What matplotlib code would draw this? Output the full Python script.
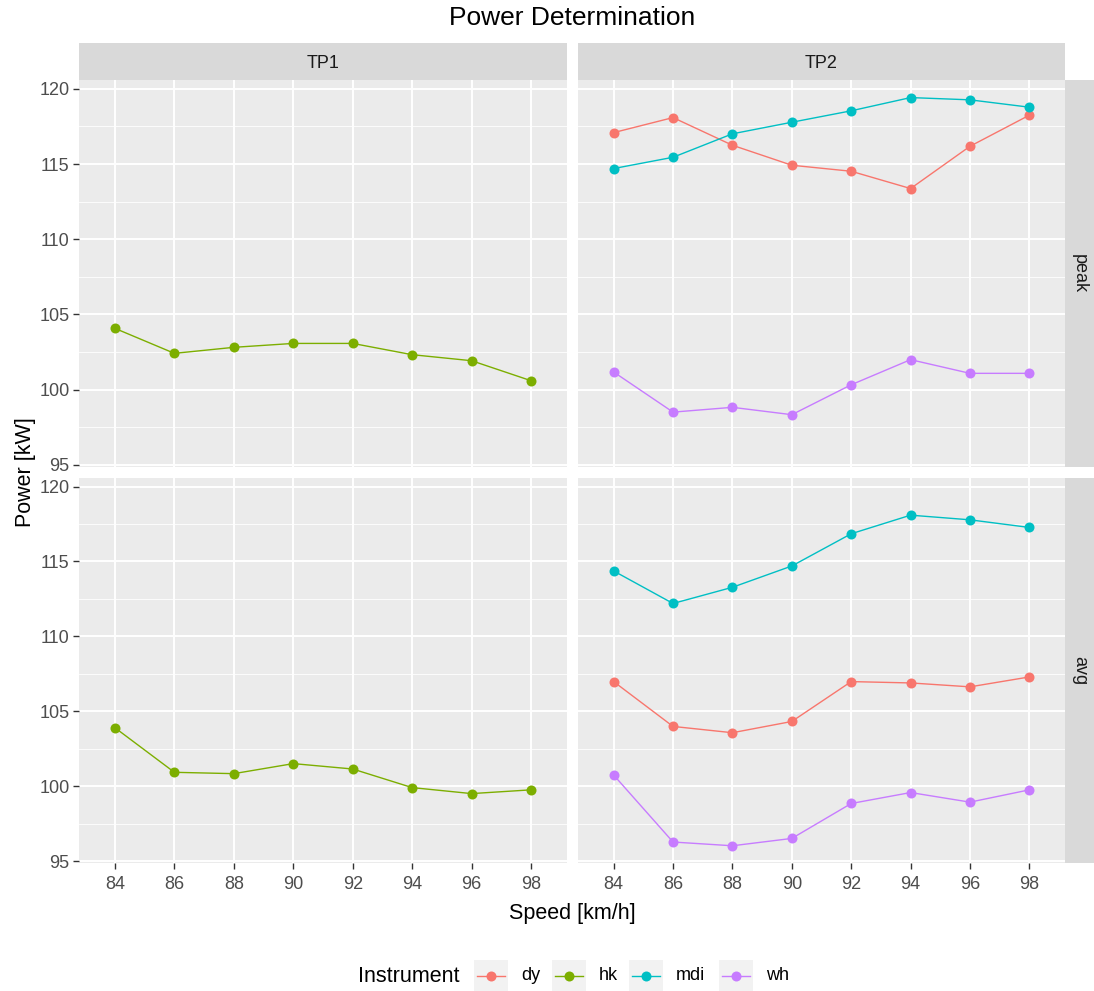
import matplotlib
matplotlib.use("Agg")
import matplotlib.pyplot as plt
from matplotlib.patches import Rectangle
from matplotlib.lines import Line2D
from matplotlib.ticker import MultipleLocator

plt.rcParams["font.family"] = ["Liberation Sans", "DejaVu Sans"]

# ---- data -------------------------------------------------------------
speed = [84, 86, 88, 90, 92, 94, 96, 98]
instruments = ["dy", "hk", "mdi", "wh"]
columns = ["TP1", "TP2"]
rows = ["peak", "avg"]

tp1_peak_hk = [104.07, 102.41, 102.81, 103.07, 103.07, 102.32, 101.92, 100.59]
tp1_avg_hk = [103.91, 100.94, 100.85, 101.52, 101.16, 99.92, 99.52, 99.77]

tp2_peak_dy = [117.09, 118.09, 116.25, 114.92, 114.52, 113.37, 116.18, 118.25]
tp2_peak_mdi = [114.70, 115.45, 117.01, 117.78, 118.54, 119.42, 119.27, 118.78]
tp2_peak_wh = [101.17, 98.50, 98.82, 98.33, 100.32, 101.99, 101.08, 101.08]

tp2_avg_dy = [106.99, 104.00, 103.58, 104.33, 106.99, 106.90, 106.64, 107.30]
tp2_avg_mdi = [114.37, 112.20, 113.28, 114.70, 116.85, 118.09, 117.78, 117.27]
tp2_avg_wh = [100.76, 96.29, 96.04, 96.53, 98.86, 99.59, 98.95, 99.77]

y_ticks = [95, 100, 105, 110, 115, 120]

palette = {"dy": "#F8766D", "hk": "#7CAE00", "mdi": "#00BFC4", "wh": "#C77CFF"}

panels = {
    ("peak", "TP1"): {"hk": tp1_peak_hk},
    ("peak", "TP2"): {"dy": tp2_peak_dy, "mdi": tp2_peak_mdi, "wh": tp2_peak_wh},
    ("avg", "TP1"): {"hk": tp1_avg_hk},
    ("avg", "TP2"): {"dy": tp2_avg_dy, "mdi": tp2_avg_mdi, "wh": tp2_avg_wh},
}

# ---- layout (pixel based) --------------------------------------------
W, H = 1094, 991
fig = plt.figure(figsize=(W / 100, H / 100), dpi=100)
fig.patch.set_facecolor("white")


def px_axes(x0, y0, x1, y1):
    """Axes from pixel box (top-left origin)."""
    return fig.add_axes([x0 / W, 1 - y1 / H, (x1 - x0) / W, (y1 - y0) / H])


col_x = {"TP1": (79.3, 566.7), "TP2": (578.0, 1065.0)}
row_y = {"peak": (80.0, 466.7), "avg": (477.7, 863.3)}
strip_top = (42.5, 80.0)
strip_right = (1065.0, 1094.0)

all_vals = [v for d in panels.values() for s in d.values() for v in s]
lo, hi = min(all_vals), max(all_vals)
pad = 0.05 * (hi - lo)
ylim = (lo - pad, hi + pad)
step = speed[1] - speed[0]
xlim = (speed[0] - 0.6 * step, speed[-1] + 0.6 * step)

PANEL_BG = "#EBEBEB"
STRIP_BG = "#D9D9D9"
TICK_COL = "#4D4D4D"

for r in rows:
    for c in columns:
        x0, x1 = col_x[c]
        y0, y1 = row_y[r]
        ax = px_axes(x0, y0, x1, y1)
        ax.set_facecolor(PANEL_BG)
        for sp in ax.spines.values():
            sp.set_visible(False)
        ax.set_xlim(*xlim)
        ax.set_ylim(*ylim)
        ax.set_xticks(speed)
        ax.set_yticks(y_ticks)
        ax.yaxis.set_minor_locator(MultipleLocator(2.5))
        ax.grid(which="major", color="white", linewidth=1.4, zorder=0)
        ax.grid(which="minor", axis="y", color="white", linewidth=0.6, zorder=0)
        ax.set_axisbelow(True)
        ax.tick_params(which="major", length=4.0, width=1.0, color="#333333",
                       labelsize=13, labelcolor=TICK_COL, pad=3)
        ax.tick_params(axis="x", pad=5)
        ax.tick_params(which="minor", length=0)
        if c != "TP1":
            ax.tick_params(axis="y", length=0, labelleft=False)
        if r != "avg":
            ax.tick_params(axis="x", length=0, labelbottom=False)

        for inst in instruments:
            if inst in panels[(r, c)]:
                ax.plot(speed, panels[(r, c)][inst], color=palette[inst],
                        linewidth=1.0, marker="o", markersize=7.2,
                        markeredgewidth=0, zorder=3)

# top strips
for c in columns:
    x0, x1 = col_x[c]
    sa = px_axes(x0, strip_top[0], x1, strip_top[1])
    sa.set_facecolor(STRIP_BG)
    sa.set_xticks([]); sa.set_yticks([])
    for sp in sa.spines.values():
        sp.set_visible(False)
    sa.text(0.5, 0.45, c, ha="center", va="center", fontsize=13,
            color="#1A1A1A", transform=sa.transAxes)

# right strips
for r in rows:
    y0, y1 = row_y[r]
    sa = px_axes(strip_right[0], y0, strip_right[1], y1)
    sa.set_facecolor(STRIP_BG)
    sa.set_xticks([]); sa.set_yticks([])
    for sp in sa.spines.values():
        sp.set_visible(False)
    sa.text(0.5, 0.5, r, ha="center", va="center", fontsize=13,
            color="#1A1A1A", rotation=-90, transform=sa.transAxes)

# titles and axis labels
fig.text(572 / W, 1 - 18 / H, "Power Determination", ha="center", va="center",
         fontsize=19, color="black")
fig.text(572 / W, 1 - 913 / H, "Speed [km/h]", ha="center", va="center",
         fontsize=15.5, color="black")
fig.text(26 / W, 1 - 472 / H, "Power [kW]", ha="center", va="center",
         fontsize=15.5, color="black", rotation=90)

# legend along the bottom
leg_cy = 976.0
fig.text(358 / W, 1 - leg_cy / H, "Instrument", ha="left", va="center",
         fontsize=15.5, color="black")
key_x = {"dy": 474, "hk": 552, "mdi": 629, "wh": 719}
key_w, key_h = 34, 33
for inst in instruments:
    kx = key_x[inst]
    fig.patches.append(Rectangle((kx / W, 1 - (leg_cy + key_h / 2) / H),
                                 key_w / W, key_h / H, transform=fig.transFigure,
                                 facecolor="#F2F2F2", edgecolor="none"))
    fig.lines.append(Line2D([(kx + 3) / W, (kx + key_w - 3) / W],
                            [1 - leg_cy / H, 1 - leg_cy / H],
                            transform=fig.transFigure, color=palette[inst],
                            linewidth=1.0))
    fig.lines.append(Line2D([(kx + key_w / 2) / W], [1 - leg_cy / H],
                            transform=fig.transFigure, color=palette[inst],
                            marker="o", markersize=7.2, markeredgewidth=0))
    fig.text((kx + key_w + 13) / W, 1 - leg_cy / H, inst, ha="left",
             va="center", fontsize=13, color="black")

fig.savefig("out.png", dpi=100, facecolor="white")
